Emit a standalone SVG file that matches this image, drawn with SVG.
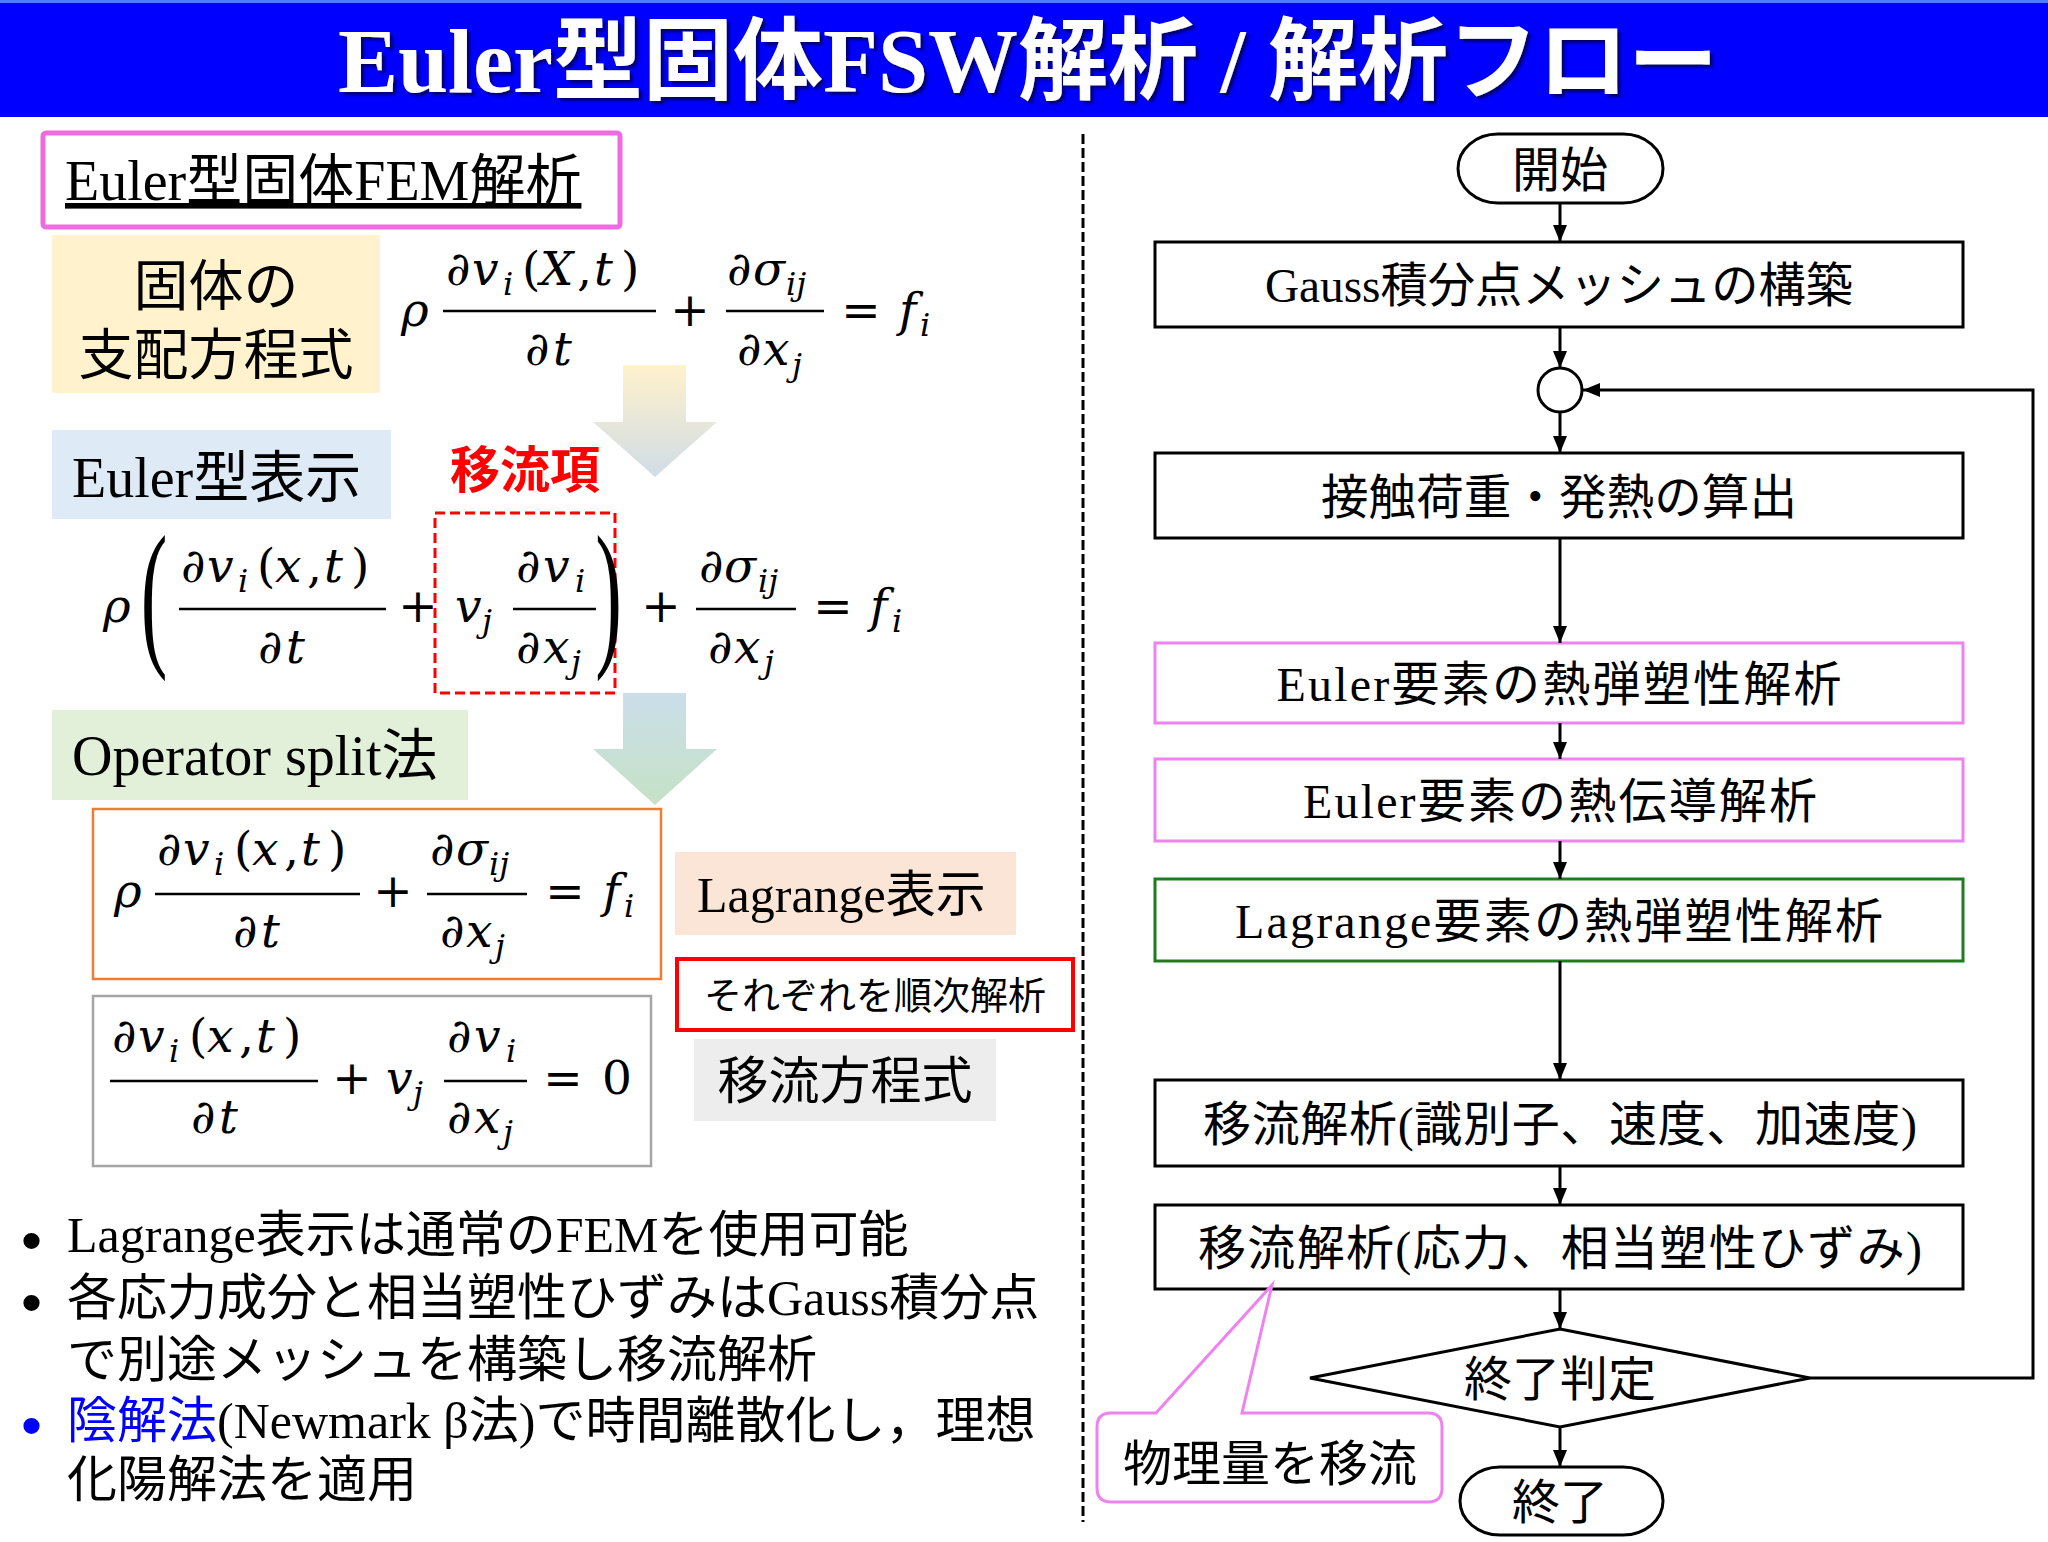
<svg xmlns="http://www.w3.org/2000/svg" width="2048" height="1542" viewBox="0 0 2048 1542">
<defs>
<style>
.ser{font-family:"Liberation Serif","Noto Sans CJK JP",serif;fill:#000}
.goth{font-family:"Liberation Sans","Noto Sans CJK JP",sans-serif;fill:#000}
.mi{font-family:"DejaVu Serif",serif;font-style:italic;font-size:47px;fill:#000}
.up{font-style:normal}
.sub{font-size:32px}
.op{font-family:"DejaVu Serif",serif;font-size:47px;fill:#000;text-anchor:middle}
.big{font-family:"Liberation Serif",serif;font-size:100px;fill:#000}
.bar{stroke:#000;stroke-width:2.5}
.fc{font-family:"Liberation Serif","Noto Sans CJK JP",serif;font-size:48px;text-anchor:middle;fill:#000}
.box{fill:#fff;stroke:#000;stroke-width:3}
.conn{fill:none;stroke:#000;stroke-width:3}
.bul{font-family:"Liberation Serif","Noto Sans CJK JP",serif;font-size:50px;fill:#000}
.dot{font-family:"Liberation Sans",sans-serif;font-size:60px;fill:#000}
</style>
<marker id="ah" markerUnits="userSpaceOnUse" markerWidth="17" markerHeight="14" refX="17" refY="7" orient="auto">
<path d="M0,0 L17,7 L0,14 z" fill="#000"/>
</marker>
<linearGradient id="g1" gradientUnits="userSpaceOnUse" x1="0" y1="365" x2="0" y2="477">
<stop offset="0" stop-color="#FFF2CC"/><stop offset="1" stop-color="#D0DCE6"/>
</linearGradient>
<linearGradient id="g2" gradientUnits="userSpaceOnUse" x1="0" y1="693" x2="0" y2="805">
<stop offset="0" stop-color="#CADFEA"/><stop offset="1" stop-color="#C5E1C5"/>
</linearGradient>
<filter id="sh" x="-5%" y="-30%" width="110%" height="160%">
<feDropShadow dx="3" dy="3" stdDeviation="1.5" flood-color="#000033" flood-opacity="0.7"/>
</filter>
</defs>
<rect x="0" y="0" width="2048" height="1542" fill="#fff"/>

<g id="title">
<rect x="0" y="0" width="2048" height="117" fill="#0000FF"/>
<rect x="0" y="0" width="2048" height="3" fill="#4A7BFF"/>
<text x="1028" y="92" text-anchor="middle" filter="url(#sh)" style="font-family:'Liberation Serif','Noto Sans CJK JP',serif;font-weight:bold;font-size:90px;fill:#fff">Euler型固体FSW解析 / 解析フロー</text>
</g>

<g id="hdr-fem">
<rect x="43" y="133" width="577" height="94" rx="3" fill="#fff" stroke="#EE6BE0" stroke-width="5"/>
<text class="ser" x="65" y="200" font-size="56" text-decoration="underline">Euler型固体FEM解析</text>
</g>

<g id="lbl-governing">
<rect x="52" y="235" width="328" height="158" fill="#FFF2CC"/>
<text class="goth" font-size="55" text-anchor="middle"><tspan x="216" y="305">固体の</tspan><tspan x="216" y="374">支配方程式</tspan></text>
</g>

<g id="eq-governing">
<text class="mi" x="401" y="326">ρ</text>
<line class="bar" x1="443" y1="311" x2="656" y2="311"/>
<text class="mi" y="285"><tspan x="446">∂</tspan><tspan x="472">v</tspan><tspan class="sub" x="503" y="295">i</tspan><tspan class="up" x="522" y="285">(</tspan><tspan x="540">X</tspan><tspan class="up" x="577">,</tspan><tspan x="594">t</tspan><tspan class="up" x="621">)</tspan></text>
<text class="mi" y="365"><tspan x="525">∂</tspan><tspan x="553">t</tspan></text>
<text class="op" x="690" y="326">+</text>
<line class="bar" x1="726" y1="311" x2="824" y2="311"/>
<text class="mi" y="285"><tspan x="727">∂</tspan><tspan x="753">σ</tspan><tspan class="sub" x="786" y="295">ij</tspan></text>
<text class="mi" y="365"><tspan x="737">∂</tspan><tspan x="763">x</tspan><tspan class="sub" x="792" y="376">j</tspan></text>
<text class="op" x="861" y="326">=</text>
<text class="mi" y="326"><tspan x="899">f</tspan><tspan class="sub" x="920" y="336">i</tspan></text>
</g>

<g id="lbl-euler">
<rect x="52" y="430" width="339" height="89" fill="#DEEBF7"/>
<text class="ser" x="72" y="497" font-size="56">Euler型表示</text>
</g>

<g id="lbl-advterm">
<text class="goth" x="525" y="488" font-size="50" font-weight="bold" text-anchor="middle" style="fill:#FF0000">移流項</text>
<rect x="435" y="513" width="180" height="180" fill="none" stroke="#FF0000" stroke-width="3" stroke-dasharray="10 5"/>
</g>

<g id="eq-euler">
<text class="mi" x="103" y="622">ρ</text>
<text class="big" transform="scale(0.8,1.6)" x="176" y="404.6">(</text>
<line class="bar" x1="179" y1="609" x2="386" y2="609"/>
<text class="mi" y="582"><tspan x="181">∂</tspan><tspan x="207">v</tspan><tspan class="sub" x="238" y="592">i</tspan><tspan class="up" x="257" y="582">(</tspan><tspan x="275">x</tspan><tspan class="up" x="307">,</tspan><tspan x="324">t</tspan><tspan class="up" x="351">)</tspan></text>
<text class="mi" y="663"><tspan x="258">∂</tspan><tspan x="286">t</tspan></text>
<text class="op" x="418" y="622">+</text>
<text class="mi" y="622"><tspan x="455">v</tspan><tspan class="sub" x="482" y="632">j</tspan></text>
<line class="bar" x1="513" y1="609" x2="596" y2="609"/>
<text class="mi" y="582"><tspan x="516">∂</tspan><tspan x="543">v</tspan><tspan class="sub" x="575" y="592">i</tspan></text>
<text class="mi" y="663"><tspan x="516">∂</tspan><tspan x="543">x</tspan><tspan class="sub" x="571" y="673">j</tspan></text>
<text class="big" transform="scale(0.8,1.6)" x="744" y="404.6">)</text>
<text class="op" x="661" y="622">+</text>
<line class="bar" x1="696" y1="609" x2="796" y2="609"/>
<text class="mi" y="582"><tspan x="699">∂</tspan><tspan x="724">σ</tspan><tspan class="sub" x="758" y="592">ij</tspan></text>
<text class="mi" y="663"><tspan x="708">∂</tspan><tspan x="734">x</tspan><tspan class="sub" x="764" y="673">j</tspan></text>
<text class="op" x="833" y="622">=</text>
<text class="mi" y="622"><tspan x="870">f</tspan><tspan class="sub" x="892" y="632">i</tspan></text>
</g>

<g id="lbl-split">
<rect x="52" y="710" width="416" height="90" fill="#E2F0D9"/>
<text class="ser" x="72" y="775" font-size="56">Operator split法</text>
</g>

<g id="eq-lagrange">
<rect x="93" y="809" width="568" height="170" fill="#fff" stroke="#ED7D31" stroke-width="2.5"/>
<text class="mi" x="114" y="907">ρ</text>
<line class="bar" x1="155" y1="894" x2="360" y2="894"/>
<text class="mi" y="865"><tspan x="157">∂</tspan><tspan x="183">v</tspan><tspan class="sub" x="214" y="875">i</tspan><tspan class="up" x="234" y="865">(</tspan><tspan x="252">x</tspan><tspan class="up" x="284">,</tspan><tspan x="301">t</tspan><tspan class="up" x="328">)</tspan></text>
<text class="mi" y="947"><tspan x="233">∂</tspan><tspan x="261">t</tspan></text>
<text class="op" x="393" y="907">+</text>
<line class="bar" x1="427" y1="894" x2="527" y2="894"/>
<text class="mi" y="865"><tspan x="430">∂</tspan><tspan x="456">σ</tspan><tspan class="sub" x="489" y="875">ij</tspan></text>
<text class="mi" y="947"><tspan x="440">∂</tspan><tspan x="466">x</tspan><tspan class="sub" x="495" y="957">j</tspan></text>
<text class="op" x="565" y="907">=</text>
<text class="mi" y="907"><tspan x="603">f</tspan><tspan class="sub" x="624" y="917">i</tspan></text>
</g>

<g id="eq-advection">
<rect x="93" y="996" width="558" height="170" fill="#fff" stroke="#A5A5A5" stroke-width="2.5"/>
<line class="bar" x1="110" y1="1081" x2="318" y2="1081"/>
<text class="mi" y="1052"><tspan x="112">∂</tspan><tspan x="138">v</tspan><tspan class="sub" x="169" y="1062">i</tspan><tspan class="up" x="189" y="1052">(</tspan><tspan x="207">x</tspan><tspan class="up" x="239">,</tspan><tspan x="256">t</tspan><tspan class="up" x="283">)</tspan></text>
<text class="mi" y="1133"><tspan x="191">∂</tspan><tspan x="219">t</tspan></text>
<text class="op" x="352" y="1094">+</text>
<text class="mi" y="1094"><tspan x="386">v</tspan><tspan class="sub" x="413" y="1104">j</tspan></text>
<line class="bar" x1="444" y1="1081" x2="527" y2="1081"/>
<text class="mi" y="1052"><tspan x="447">∂</tspan><tspan x="474">v</tspan><tspan class="sub" x="506" y="1062">i</tspan></text>
<text class="mi" y="1133"><tspan x="447">∂</tspan><tspan x="474">x</tspan><tspan class="sub" x="503" y="1143">j</tspan></text>
<text class="op" x="563" y="1094">=</text>
<text class="mi up" x="602" y="1094">0</text>
</g>

<g id="lbl-lagrange">
<rect x="675" y="852" width="341" height="83" fill="#FBE5D6"/>
<text class="ser" x="697" y="912" font-size="50">Lagrange表示</text>
</g>

<g id="lbl-sequential">
<rect x="677" y="959" width="396" height="71" fill="#fff" stroke="#FF0000" stroke-width="4"/>
<text class="goth" x="875" y="1009" font-size="38" text-anchor="middle">それぞれを順次解析</text>
</g>

<g id="lbl-adveq">
<rect x="694" y="1039" width="302" height="82" fill="#EDEDED"/>
<text class="goth" x="845" y="1099" font-size="51" text-anchor="middle">移流方程式</text>
</g>

<g id="bullets">
<text class="dot" x="21" y="1261">•</text>
<text class="bul" x="67" y="1252">Lagrange表示は通常のFEMを使用可能</text>
<text class="dot" x="21" y="1323">•</text>
<text class="bul" x="67" y="1315">各応力成分と相当塑性ひずみはGauss積分点</text>
<text class="bul" x="67" y="1377">で別途メッシュを構築し移流解析</text>
<text class="dot" x="21" y="1446" style="fill:#0000FF">•</text>
<text class="bul" x="67" y="1438"><tspan style="fill:#0000FF">陰解法</tspan>(Newmark β法)で時間離散化し，理想</text>
<text class="bul" x="67" y="1497">化陽解法を適用</text>
</g>

<g id="divider">
<line x1="1083" y1="134" x2="1083" y2="1522" stroke="#000" stroke-width="3" stroke-dasharray="10 4"/>
</g>

<g id="n-start">
<rect x="1458" y="134" width="205" height="69" rx="40" ry="34.5" class="box"/>
<text class="fc" x="1560" y="187">開始</text>
</g>
<g id="n-mesh">
<rect x="1155" y="242" width="808" height="85" class="box"/>
<text class="fc" x="1559" y="302" textLength="588" lengthAdjust="spacingAndGlyphs">Gauss積分点メッシュの構築</text>
</g>
<g id="n-merge">
<circle cx="1560" cy="390" r="22" class="box"/>
</g>
<g id="n-contact">
<rect x="1155" y="453" width="808" height="85" class="box"/>
<text class="fc" x="1559" y="514" textLength="476" lengthAdjust="spacingAndGlyphs">接触荷重・発熱の算出</text>
</g>
<g id="n-euler-tep">
<rect x="1155" y="643" width="808" height="80" fill="#fff" stroke="#EE82EE" stroke-width="3"/>
<text class="fc" x="1559" y="701" textLength="565">Euler要素の熱弾塑性解析</text>
</g>
<g id="n-euler-heat">
<rect x="1155" y="759" width="808" height="82" fill="#fff" stroke="#EE82EE" stroke-width="3"/>
<text class="fc" x="1560" y="818" textLength="514">Euler要素の熱伝導解析</text>
</g>
<g id="n-lag-tep">
<rect x="1155" y="879" width="808" height="82" fill="#fff" stroke="#1E7B1E" stroke-width="3"/>
<text class="fc" x="1559" y="938" textLength="648">Lagrange要素の熱弾塑性解析</text>
</g>
<g id="n-adv1">
<rect x="1155" y="1080" width="808" height="86" class="box"/>
<text class="fc" x="1560" y="1141" textLength="714">移流解析(識別子、速度、加速度)</text>
</g>
<g id="n-adv2">
<rect x="1155" y="1205" width="808" height="84" class="box"/>
<text class="fc" x="1560" y="1265" textLength="724">移流解析(応力、相当塑性ひずみ)</text>
</g>
<g id="n-judge">
<polygon points="1560,1329 1810,1378 1560,1427 1310,1378" class="box"/>
<text class="fc" x="1560" y="1396">終了判定</text>
</g>
<g id="n-end">
<rect x="1460" y="1467" width="203" height="68" rx="40" ry="34" class="box"/>
<text class="fc" x="1560" y="1519">終了</text>
</g>

<g id="callout">
<path d="M1111,1413 L1156,1413 L1272,1285 L1242,1413 L1428,1413 Q1442,1413 1442,1427 L1442,1488 Q1442,1502 1428,1502 L1111,1502 Q1097,1502 1097,1488 L1097,1427 Q1097,1413 1111,1413 Z" fill="#fff" stroke="#EE82EE" stroke-width="3"/>
<text class="goth" x="1270" y="1481" font-size="49" text-anchor="middle">物理量を移流</text>
</g>

<g id="connectors">
<polygon points="623,365 686,365 686,422 717,422 655,477 593,422 623,422" fill="url(#g1)"/>
<polygon points="623,693 686,693 686,749 717,749 655,805 593,749 623,749" fill="url(#g2)"/>
<line class="conn" x1="1560" y1="203" x2="1560" y2="242" marker-end="url(#ah)"/>
<line class="conn" x1="1560" y1="327" x2="1560" y2="368" marker-end="url(#ah)"/>
<line class="conn" x1="1560" y1="412" x2="1560" y2="453" marker-end="url(#ah)"/>
<line class="conn" x1="1560" y1="538" x2="1560" y2="643" marker-end="url(#ah)"/>
<line class="conn" x1="1560" y1="723" x2="1560" y2="759" marker-end="url(#ah)"/>
<line class="conn" x1="1560" y1="841" x2="1560" y2="879" marker-end="url(#ah)"/>
<line class="conn" x1="1560" y1="961" x2="1560" y2="1080" marker-end="url(#ah)"/>
<line class="conn" x1="1560" y1="1166" x2="1560" y2="1205" marker-end="url(#ah)"/>
<line class="conn" x1="1560" y1="1289" x2="1560" y2="1329" marker-end="url(#ah)"/>
<line class="conn" x1="1560" y1="1427" x2="1560" y2="1467" marker-end="url(#ah)"/>
<path class="conn" d="M1810,1378 H2033 V390 H1583" marker-end="url(#ah)"/>
</g>
</svg>
